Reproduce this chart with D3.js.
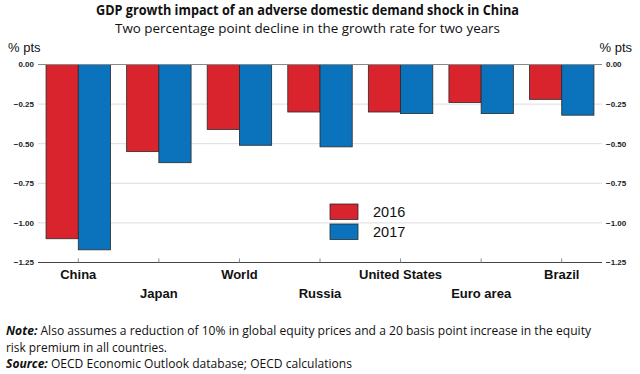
<!DOCTYPE html>
<html>
<head>
<meta charset="utf-8">
<script src="https://cdn.jsdelivr.net/npm/d3@7"></script>
<style>
  body { margin: 0; background: #fff; }
  svg { display: block; }
</style>
</head>
<body>
<svg id="chart" width="640" height="374"></svg>
<script>
const categories = ["China", "Japan", "World", "Russia", "United States", "Euro area", "Brazil"];
const seriesNames = ["2016", "2017"];
const values2016 = [-1.10, -0.55, -0.41, -0.30, -0.30, -0.24, -0.22];
const values2017 = [-1.17, -0.62, -0.51, -0.52, -0.31, -0.31, -0.32];
const yTicks = [0, -0.25, -0.5, -0.75, -1.0, -1.25];
const colors = ["#d9232d", "#0a73bb"];

(function () {
const svg = d3.select("#chart");
const pLeft = 38, pRight = 602, pTop = 64.5, pBottom = 262.5;

const x = d3.scaleBand().domain(categories).range([pLeft, pRight]).paddingInner(0.2).paddingOuter(0.1);
const xs = d3.scaleBand().domain(seriesNames).range([0, x.bandwidth()]).padding(0);
const y = d3.scaleLinear().domain([-1.25, 0]).range([pBottom, pTop]);

const calibri = "'Open Sans', 'Noto Sans', sans-serif";
const arial = "'Liberation Sans', Arial, sans-serif";

// Title
svg.append("text").attr("x", 96).attr("y", 14.5).attr("font-family", calibri).attr("font-weight", "bold")
  .attr("font-size", 13.5).attr("fill", "#111").attr("textLength", 423).attr("lengthAdjust", "spacingAndGlyphs")
  .text("GDP growth impact of an adverse domestic demand shock in China");
svg.append("text").attr("x", 115).attr("y", 33).attr("font-family", calibri)
  .attr("font-size", 13.5).attr("fill", "#111").attr("textLength", 385).attr("lengthAdjust", "spacingAndGlyphs")
  .text("Two percentage point decline in the growth rate for two years");

// % pts labels
svg.append("text").attr("x", 8).attr("y", 52).attr("font-family", arial).attr("font-size", 13).attr("fill", "#111").text("% pts");
svg.append("text").attr("x", 632).attr("y", 52).attr("text-anchor", "end").attr("font-family", arial).attr("font-size", 13).attr("fill", "#111").text("% pts");

// Gridlines
svg.append("g").selectAll("line").data(yTicks.filter(t => t !== 0 && t !== -1.25)).join("line")
  .attr("x1", pLeft).attr("x2", pRight).attr("y1", d => y(d)).attr("y2", d => y(d))
  .attr("stroke", "#dcdcdc").attr("stroke-width", 1);

// Axis tick labels (left and right)
const fmt = d3.format(".2f");
svg.append("g").selectAll("text").data(yTicks).join("text")
  .attr("x", 34).attr("y", d => y(d)).attr("dy", "0.35em").attr("text-anchor", "end")
  .attr("font-family", arial).attr("font-weight", "bold").attr("font-size", 8).attr("fill", "#222")
  .text(d => fmt(d));
svg.append("g").selectAll("text").data(yTicks).join("text")
  .attr("x", 606).attr("y", d => y(d)).attr("dy", "0.35em").attr("text-anchor", "start")
  .attr("font-family", arial).attr("font-weight", "bold").attr("font-size", 8).attr("fill", "#222")
  .text(d => fmt(d));

// Bars
const rows = categories.map((c, i) => ({ c, vals: [values2016[i], values2017[i]] }));
const g = svg.append("g");
rows.forEach(r => {
  r.vals.forEach((v, j) => {
    g.append("rect")
      .attr("x", x(r.c) + xs(seriesNames[j]))
      .attr("y", y(0))
      .attr("width", xs.bandwidth())
      .attr("height", y(v) - y(0))
      .attr("fill", colors[j])
      .attr("stroke", "#2a2a2a").attr("stroke-width", 0.8);
  });
});

// Zero line
svg.append("line").attr("x1", pLeft).attr("x2", pRight).attr("y1", y(0)).attr("y2", y(0))
  .attr("stroke", "#8a8a8a").attr("stroke-width", 1.2);

// Bottom axis
svg.append("line").attr("x1", pLeft).attr("x2", pRight).attr("y1", y(-1.25)).attr("y2", y(-1.25))
  .attr("stroke", "#444").attr("stroke-width", 1);
svg.append("g").selectAll("line").data(categories).join("line")
  .attr("x1", d => x(d) + x.bandwidth() / 2).attr("x2", d => x(d) + x.bandwidth() / 2)
  .attr("y1", y(-1.25)).attr("y2", y(-1.25) - 4).attr("stroke", "#888").attr("stroke-width", 1);
svg.append("g").selectAll("text").data(categories).join("text")
  .attr("x", d => x(d) + x.bandwidth() / 2)
  .attr("y", (d, i) => i % 2 === 0 ? 278.5 : 297.5)
  .attr("text-anchor", "middle").attr("font-family", arial).attr("font-weight", "bold")
  .attr("font-size", 13).attr("fill", "#111").text(d => d);

// Legend
const lg = svg.append("g");
seriesNames.forEach((s, j) => {
  lg.append("rect").attr("x", 330).attr("y", 204 + j * 20).attr("width", 28).attr("height", 15.5)
    .attr("fill", colors[j]).attr("stroke", "#2a2a2a").attr("stroke-width", 0.8);
  lg.append("text").attr("x", 373).attr("y", 212 + j * 20).attr("dy", "0.36em")
    .attr("font-family", arial).attr("font-size", 14.5).attr("fill", "#111").text(s);
});

// Notes
const n1 = svg.append("text").attr("x", 6).attr("y", 335).attr("font-family", calibri).attr("font-size", 12.5)
  .attr("fill", "#111").attr("textLength", 585).attr("lengthAdjust", "spacingAndGlyphs");
n1.append("tspan").attr("font-weight", "bold").attr("font-style", "italic").text("Note:");
n1.append("tspan").text(" Also assumes a reduction of 10% in global equity prices and a 20 basis point increase in the equity");
svg.append("text").attr("x", 6).attr("y", 352).attr("font-family", calibri).attr("font-size", 12.5)
  .attr("fill", "#111").attr("textLength", 161).attr("lengthAdjust", "spacingAndGlyphs")
  .text("risk premium in all countries.");
const n3 = svg.append("text").attr("x", 6).attr("y", 368).attr("font-family", calibri).attr("font-size", 12.5)
  .attr("fill", "#111").attr("textLength", 346).attr("lengthAdjust", "spacingAndGlyphs");
n3.append("tspan").attr("font-weight", "bold").attr("font-style", "italic").text("Source:");
n3.append("tspan").text(" OECD Economic Outlook database; OECD calculations");
})();
</script>
</body>
</html>
